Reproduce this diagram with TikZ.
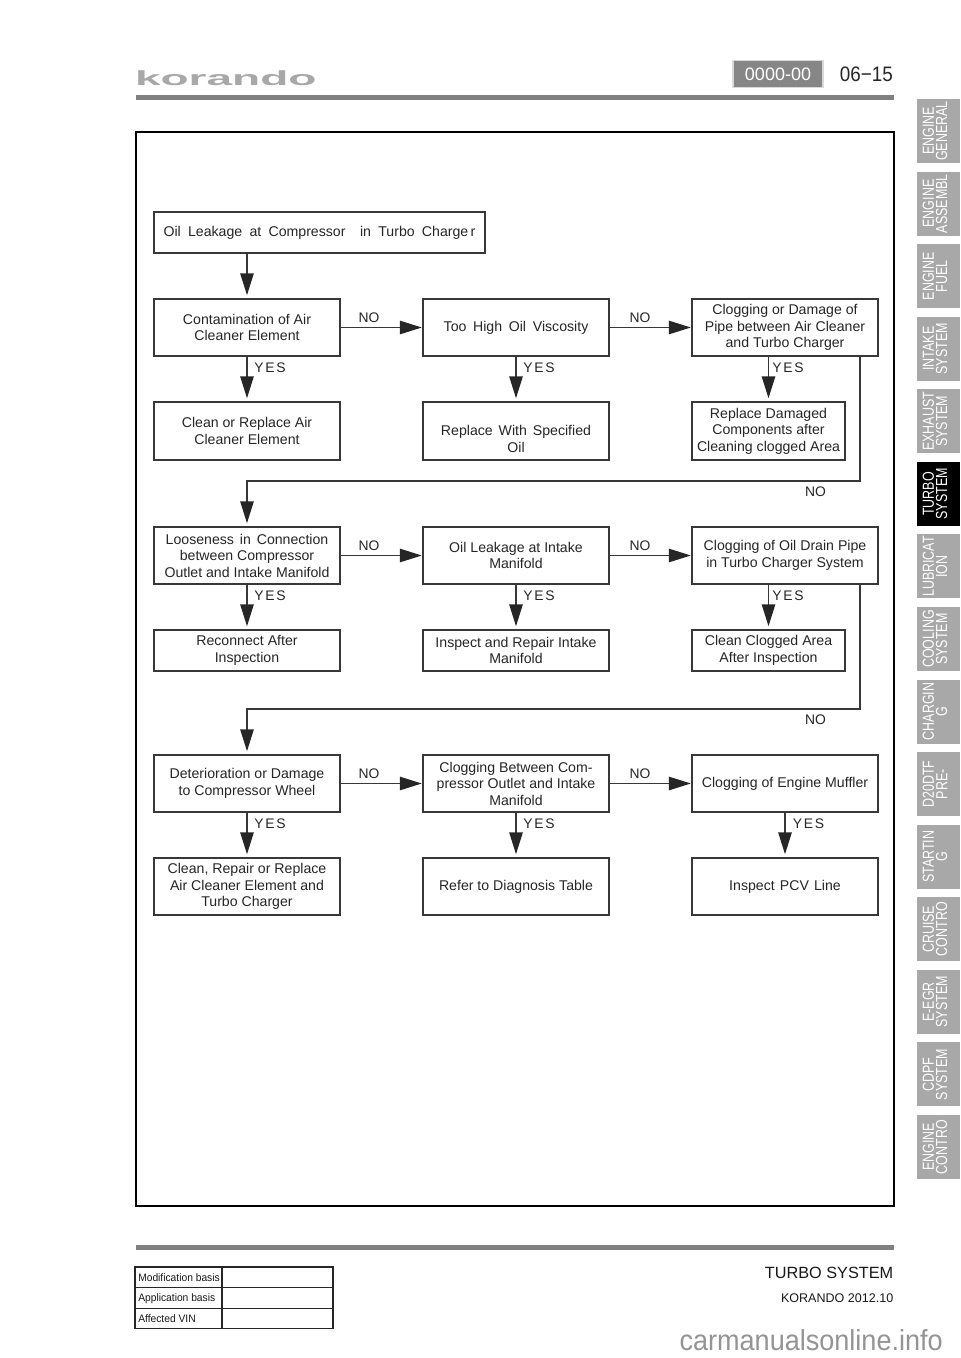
\documentclass[tikz,border=0pt]{standalone}
\usepackage{fontspec}
\setmainfont{Liberation Sans}
\usetikzlibrary{arrows.meta}
\definecolor{linegray}{gray}{0.22}
\definecolor{tabgray}{gray}{0.66}
\definecolor{rulegray}{gray}{0.5}
\newcommand{\bx}[6]{\node[flowbox,minimum width=#3*0.75pt-#2*0.75pt,minimum height=#5*0.75pt-#4*0.75pt] (#1) at ({(#2+#3)/2},{(#4+#5)/2}) {#6};}
\newcommand{\ys}{{\addfontfeature{LetterSpace=12}YES}}
\newcommand{\widesp}[1]{\spaceskip=#1\fontdimen2\font\relax}
\tikzset{
  x=0.75pt,y=-0.75pt,
  flowbox/.style={draw=linegray,line width=1.15pt,fill=white,align=center,inner sep=0pt,font=\fontsize{10.6}{12.4}\selectfont,text=black!85},
  flowarrow/.style={draw=linegray,line width=1.3pt,-{Triangle[length=16.5pt,width=10pt,color=black!85]},shorten >=2.2pt},
  sidearrow/.style={flowarrow,shorten >=0.3pt},
  flowlabel/.style={inner sep=0pt,yshift=-0.6pt,font=\fontsize{10.4}{12}\selectfont,text=black!85},
  tabbox/.style={fill=tabgray,minimum width=32.25pt,minimum height=48pt,inner sep=0pt},
  tabtext/.style={rotate=90,xscale=0.78,align=center,text=white,inner sep=0pt,font=\fontsize{12}{10}\selectfont},
  cellbox/.style={draw=black!85,line width=0.8pt,inner sep=0pt},
  celltext/.style={anchor=west,inner sep=0pt,xscale=0.95,font=\fontsize{8.1}{10}\selectfont,text=black!90}
}
\begin{document}
\begin{tikzpicture}
\useasboundingbox (0,0) rectangle (960,1358);
\fill[white] (0,0) rectangle (960,1358);
% header
\node[inner sep=0pt,anchor=west,text=tabgray,font=\bfseries\fontsize{17}{17}\selectfont,xscale=2.03,yscale=0.9] (logo) at (134.5,78) {korando};
\fill[rulegray] (136,95) rectangle (894,100);
\node[draw=black!15,line width=1pt,fill=rulegray!95,text=white,minimum width=90*0.75pt,minimum height=27*0.75pt,inner sep=0pt,font=\fontsize{13.5}{14}\selectfont] (code) at (778,74) {0000-00};
\node[inner sep=0pt,anchor=east,xscale=0.9,font=\fontsize{15.7}{16}\selectfont,text=black!85] (page) at (893,74) {06−15};
% frame
\draw[black,line width=1.5pt] (135.5,132) rectangle (893.5,1206);
% flow boxes
\bx{s}{154}{485}{212}{253}{\widesp{1.85}Oil Leakage at Compressor \ in Turbo Charge\,r}
\bx{a1}{154}{340}{299}{356}{Contamination of Air\\Cleaner Element}
\bx{a2}{423}{609}{299}{356}{\widesp{1.7}Too High Oil Viscosity}
\bx{a3}{692}{878}{299}{356}{Clogging or Damage of\\Pipe between Air Cleaner\\and Turbo Charger}
\bx{b1}{154}{340}{402}{460}{Clean or Replace Air\\Cleaner Element}
\bx{b2}{423}{609}{402}{460}{\mbox{}\\[7pt]{\widesp{1.5}Replace With Specified}\\Oil}
\bx{b3}{692}{845}{402}{460}{Replace Damaged\\Components after\\Cleaning clogged Area}
\bx{c1}{154}{340}{527}{584}{{\widesp{1.5}Looseness in Connection}\\between Compressor\\Outlet and Intake Manifold}
\bx{c2}{423}{609}{527}{584}{Oil Leakage at Intake\\Manifold}
\bx{c3}{692}{878}{527}{584}{Clogging of Oil Drain Pipe\\in Turbo Charger System}
\bx{d1}{154}{340}{630}{671}{Reconnect After\\Inspection}
\bx{d2}{423}{609}{630}{671}{Inspect and Repair Intake\\Manifold}
\bx{d3}{692}{845}{630}{671}{Clean Clogged Area\\After Inspection}
\bx{e1}{154}{340}{755}{812}{Deterioration or Damage\\to Compressor Wheel}
\bx{e2}{423}{609}{755}{812}{Clogging Between Com-\\pressor Outlet and Intake\\Manifold}
\bx{e3}{692}{878}{755}{812}{Clogging of Engine Muffler}
\bx{f1}{154}{340}{858}{915}{Clean, Repair or Replace\\Air Cleaner Element and\\Turbo Charger}
\bx{f2}{423}{609}{858}{915}{Refer to Diagnosis Table}
\bx{f3}{692}{878}{858}{915}{\widesp{1.3}Inspect PCV Line}
% free corners of the long return lines
\coordinate (r1s) at (860,356);
\coordinate (r1m) at (860,481);
\coordinate (r2s) at (860,584);
\coordinate (r2m) at (860,709);
% connectors
\draw[flowarrow] (s.south -| a1.north) -- (a1.north);
\foreach \p/\q in {a1/a2,a2/a3,c1/c2,c2/c3,e1/e2,e2/e3}{\draw[sidearrow] (\p.east) -- (\q.west);}
\foreach \p/\q in {a1/b1,a2/b2,c1/d1,c2/d2,e1/f1,e2/f2,e3/f3}{\draw[flowarrow] (\p.south) -- (\q.north);}
\draw[flowarrow] (a3.south -| b3.north) -- (b3.north);
\draw[flowarrow] (c3.south -| d3.north) -- (d3.north);
\draw[flowarrow] (r1s) -- (r1m) -- (r1m -| c1.north) -- (c1.north);
\draw[flowarrow] (r2s) -- (r2m) -- (r2m -| e1.north) -- (e1.north);
% labels
\foreach \n/\x/\y in {n1/369/317,n2/640/317,n3/369/545,n4/640/545,n5/369/773,n6/640/773,n7/815.5/491,n8/815.5/719}{\node[flowlabel] (\n) at (\x,\y) {NO};}
\foreach \n/\x/\y in {y1/270/367,y2/539/367,y3/788/367,y4/270/595,y5/539/595,y6/788/595,y7/270/823,y8/539/823,y9/808.5/823}{\node[flowlabel] (\n) at (\x,\y) {\ys};}
% side tabs
\foreach \i/\l in {0/ENGINE\\GENERAL,1/ENGINE\\ASSEMBL,2/ENGINE\\FUEL,3/INTAKE\\SYSTEM,4/EXHAUST\\SYSTEM,6/LUBRICAT\\ION,7/COOLING\\SYSTEM,8/CHARGIN\\G,9/D20DTF\\PRE-,10/STARTIN\\G,11/CRUISE\\CONTRO,12/E-EGR\\SYSTEM,13/CDPF\\SYSTEM,14/ENGINE\\CONTRO}{
  \node[tabbox] (tab\i) at (938.5,{131+72.57*\i}) {};
  \node[tabtext] (tabl\i) at (935,{131+72.57*\i}) {\l};
}
\node[tabbox,fill=black] (tab5) at (938.5,{131+72.57*5}) {};
\node[tabtext] (tabl5) at (935,{131+72.57*5}) {TURBO\\SYSTEM};
% footer
\fill[rulegray] (136,1245) rectangle (894,1250);
\node[cellbox,minimum width=87*0.75pt,minimum height=20.6*0.75pt] (m1) at (178.5,1277.3) {};
\node[cellbox,minimum width=111*0.75pt,minimum height=20.6*0.75pt] (m2) at (277.5,1277.3) {};
\node[cellbox,minimum width=87*0.75pt,minimum height=20.6*0.75pt] (m3) at (178.5,1297.9) {};
\node[cellbox,minimum width=111*0.75pt,minimum height=20.6*0.75pt] (m4) at (277.5,1297.9) {};
\node[cellbox,minimum width=87*0.75pt,minimum height=20.6*0.75pt] (m5) at (178.5,1318.5) {};
\node[cellbox,minimum width=111*0.75pt,minimum height=20.6*0.75pt] (m6) at (277.5,1318.5) {};
\node[celltext] (t1) at (138,1277.3) {Modification basis};
\node[celltext] (t2) at (138,1298.5) {Application basis};
\node[celltext] (t3) at (138,1318.5) {Affected VIN};
\node[inner sep=0pt,anchor=east,font=\fontsize{12.2}{13}\selectfont,text=black!90] (ts) at (893.5,1272.5) {TURBO SYSTEM};
\node[inner sep=0pt,anchor=east,font=\fontsize{9.4}{10}\selectfont,text=black!90] (kr) at (893.5,1298) {KORANDO 2012.10};
\node[inner sep=0pt,anchor=base east,xscale=0.935,font=\fontsize{21.7}{22}\selectfont,text=black!42] (wm) at (943,1350) {carmanualsonline.info};
\end{tikzpicture}
\end{document}
